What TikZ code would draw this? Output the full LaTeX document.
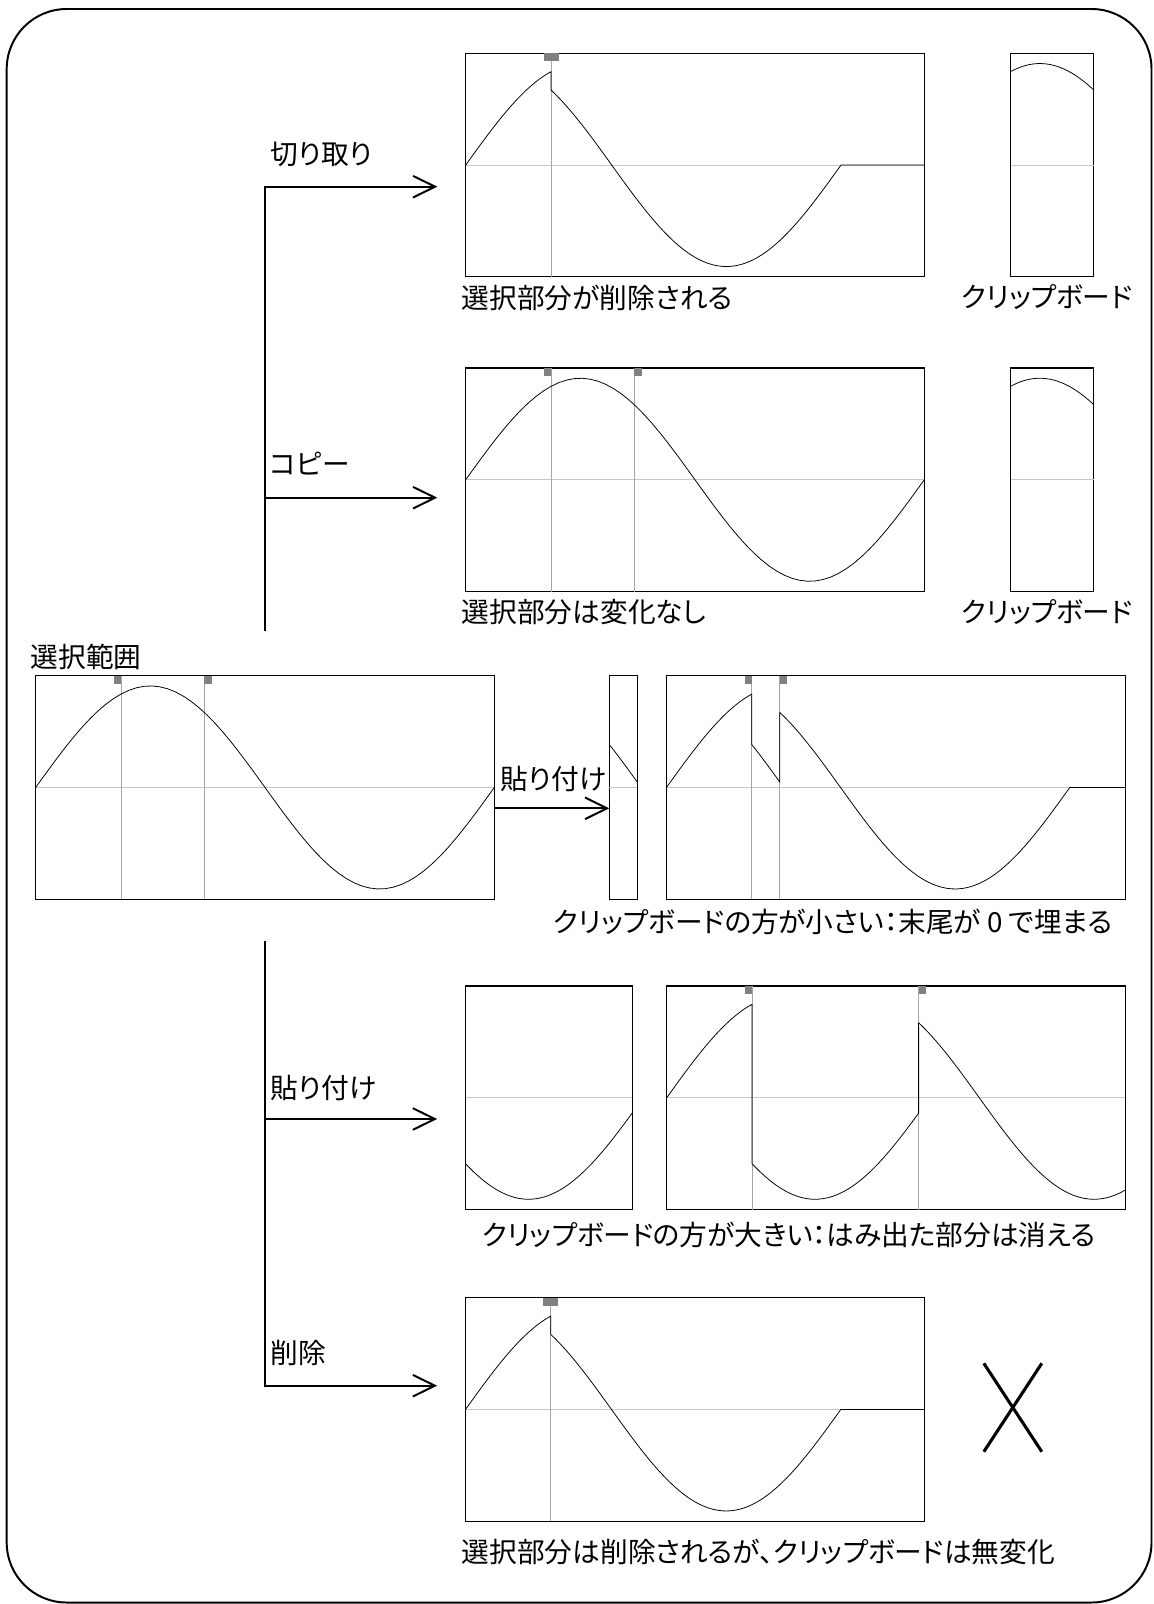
\documentclass[tikz,border=0pt]{standalone}
\usepackage{fontspec}
\setmainfont{Noto Sans CJK JP}[RawFeature=+palt]
\usetikzlibrary{positioning,arrows.meta,calc}

\newcommand{\wavepart}[3]{-- plot[domain=#2:#3,samples=60] ({#1+(\x-#2)*1.27389},{111.75-101.5*sin(\x)})}

\begin{document}
\begin{tikzpicture}[
                x=0.025cm, y=-0.025cm,
                font=\fontsize{19.7pt}{24pt}\selectfont,
                wavebox/.style={rectangle, draw=black, line width=0.9pt, minimum height=5.5875cm, inner sep=0pt, outer sep=0pt, anchor=north west},
                caption/.style={inner sep=0pt, anchor=west},
                zeroline/.style={draw=black!22, line width=0.6pt},
                cursor/.style={draw=black!35, line width=0.6pt},
                selmark/.style={fill=black!50},
                wave/.style={draw=black, line width=0.55pt, line join=round},
                flowline/.style={draw=black, line width=1.4pt},
                arrow/.style={flowline, -{Straight Barb[length=5.5mm, width=5.4mm]}, shorten >=7.1mm},
                crossline/.style={draw=black, line width=2.2pt}
            ]
                \useasboundingbox (0,0) rectangle (1153,1604);
                \draw[line width=1.4pt, rounded corners=1.5cm] (6.7,9) rectangle (1151.5,1602.5);

                \node[wavebox, minimum width=11.465cm] (cutbox) at (465.7,53.3) {};
                \node[wavebox, minimum width=2.0825cm] (cutclip) at (1010.5,53.3) {};
                \node[wavebox, minimum width=11.465cm] (copybox) at (465.7,368) {};
                \node[wavebox, minimum width=2.0825cm] (copyclip) at (1010.5,368) {};
                \node[wavebox, minimum width=11.465cm] (selbox) at (35.7,675.7) {};
                \node[wavebox, minimum width=0.7cm] (smallclip) at (609.3,675.7) {};
                \node[wavebox, minimum width=11.465cm] (smallpaste) at (666.5,675.7) {};
                \node[wavebox, minimum width=4.165cm] (largeclip) at (465.5,986) {};
                \node[wavebox, minimum width=11.465cm] (largepaste) at (666.7,986) {};
                \node[wavebox, minimum width=11.465cm] (delbox) at (465.5,1297.7) {};

                \begin{scope}[shift={(cutbox.north west)}]
                    \draw[zeroline] (0,111.75) -- (458.6,111.75);
                    \draw[cursor] (85.3,0) -- (85.3,223.5);
                    \fill[selmark] (77.8,0) rectangle (92.8,8);
                    \draw[wave] (0,111.75) \wavepart{0}{0}{66.96} \wavepart{85.3}{132.35}{360} -- (458.6,111.75);
                \end{scope}
                \begin{scope}[shift={(cutclip.north west)}]
                    \draw[zeroline] (0,111.75) -- (83.3,111.75);
                    \draw[wave] (0,{111.75-101.5*sin(66.96)}) \wavepart{0}{66.96}{132.35};
                \end{scope}
                \begin{scope}[shift={(copybox.north west)}]
                    \draw[zeroline] (0,111.75) -- (458.6,111.75);
                    \draw[cursor] (85.3,0) -- (85.3,223.5);
                    \draw[cursor] (168.6,0) -- (168.6,223.5);
                    \fill[selmark] (78,0) rectangle (85.3,8);
                    \fill[selmark] (168.6,0) rectangle (175.9,8);
                    \draw[wave] (0,111.75) \wavepart{0}{0}{360};
                \end{scope}
                \begin{scope}[shift={(copyclip.north west)}]
                    \draw[zeroline] (0,111.75) -- (83.3,111.75);
                    \draw[wave] (0,{111.75-101.5*sin(66.96)}) \wavepart{0}{66.96}{132.35};
                \end{scope}
                \begin{scope}[shift={(selbox.north west)}]
                    \draw[zeroline] (0,111.75) -- (458.6,111.75);
                    \draw[cursor] (85.3,0) -- (85.3,223.5);
                    \draw[cursor] (168.6,0) -- (168.6,223.5);
                    \fill[selmark] (78,0) rectangle (85.3,8);
                    \fill[selmark] (168.6,0) rectangle (175.9,8);
                    \draw[wave] (0,111.75) \wavepart{0}{0}{360};
                \end{scope}
                \begin{scope}[shift={(smallclip.north west)}]
                    \draw[zeroline] (0,111.75) -- (28,111.75);
                    \draw[wave] (0,{111.75-101.5*sin(155)}) \wavepart{0}{155}{177};
                \end{scope}
                \begin{scope}[shift={(smallpaste.north west)}]
                    \draw[zeroline] (0,111.75) -- (458.6,111.75);
                    \draw[cursor] (85.3,0) -- (85.3,223.5);
                    \draw[cursor] (113.3,0) -- (113.3,223.5);
                    \fill[selmark] (78,0) rectangle (85.3,8);
                    \fill[selmark] (113.3,0) rectangle (120.6,8);
                    \draw[wave] (0,111.75) \wavepart{0}{0}{66.96} \wavepart{85.3}{155}{177} \wavepart{113.3}{132.35}{360} -- (458.6,111.75);
                \end{scope}
                \begin{scope}[shift={(largeclip.north west)}]
                    \draw[zeroline] (0,111.75) -- (166.6,111.75);
                    \draw[wave] (0,{111.75-101.5*sin(220.5)}) \wavepart{0}{220.5}{351.3};
                \end{scope}
                \begin{scope}[shift={(largepaste.north west)}]
                    \draw[zeroline] (0,111.75) -- (458.6,111.75);
                    \draw[cursor] (85.3,0) -- (85.3,223.5);
                    \draw[cursor] (251.9,0) -- (251.9,223.5);
                    \fill[selmark] (78,0) rectangle (85.3,8);
                    \fill[selmark] (251.9,0) rectangle (259.2,8);
                    \draw[wave] (0,111.75) \wavepart{0}{0}{66.96} \wavepart{85.3}{220.5}{351.3} \wavepart{251.9}{132.35}{294.5};
                \end{scope}
                \begin{scope}[shift={(delbox.north west)}]
                    \draw[zeroline] (0,111.75) -- (458.6,111.75);
                    \draw[cursor] (85.3,0) -- (85.3,223.5);
                    \fill[selmark] (77.8,0) rectangle (92.8,8);
                    \draw[wave] (0,111.75) \wavepart{0}{0}{66.96} \wavepart{85.3}{132.35}{360} -- (458.6,111.75);
                \end{scope}

                \node[caption] (seltext) at (30.5,657) {選択範囲};
                \node[caption] (cuttext) at (461.5,298) {選択部分が削除される};
                \node[caption, anchor=center] (cutcliptext) at (1047,297) {クリップボード};
                \node[caption] (copytext) at (461.5,612) {選択部分は変化なし};
                \node[caption, anchor=center] (copycliptext) at (1047,612) {クリップボード};
                \node[caption, anchor=center] (smalltext) at (833,922) {クリップボードの方が小さい：末尾が 0 で埋まる};
                \node[caption, anchor=center] (largetext) at (789,1235) {クリップボードの方が大きい：はみ出た部分は消える};
                \node[caption] (deltext) at (461.5,1552) {選択部分は削除されるが、クリップボードは無変化};

                \coordinate (topend) at (264.7,631);
                \coordinate (botend) at (264.7,940.7);
                \coordinate (cutrow) at (264.7,186.7);
                \coordinate (copyrow) at (264.7,497.7);
                \coordinate (pasterow) at (264.7,1119);
                \coordinate (delrow) at (264.7,1385.7);
                \coordinate (selrow) at (494,808.3);

                \draw[arrow] (topend) |- (cutbox.west |- cutrow);
                \draw[arrow] (copyrow) -- (copybox.west |- copyrow);
                \draw[arrow] (botend) |- (delbox.west |- delrow);
                \draw[arrow] (pasterow) -- (largeclip.west |- pasterow);
                \draw[arrow, shorten >=0pt] (selbox.east |- selrow) -- (smallclip.west |- selrow);

                \node[caption] (cutlab) at (270.5,154) {切り取り};
                \node[caption] (copylab) at (270,463.5) {コピー};
                \node[caption] (pastelab) at (500.5,778.7) {貼り付け};
                \node[caption] (pastelab2) at (270.5,1088.3) {貼り付け};
                \node[caption] (dellab) at (270.5,1353.3) {削除};

                \draw[crossline] (983.8,1363.3) -- (1041.8,1451.7);
                \draw[crossline] (1041.8,1363.3) -- (983.8,1451.7);
            \end{tikzpicture}
\end{document}
